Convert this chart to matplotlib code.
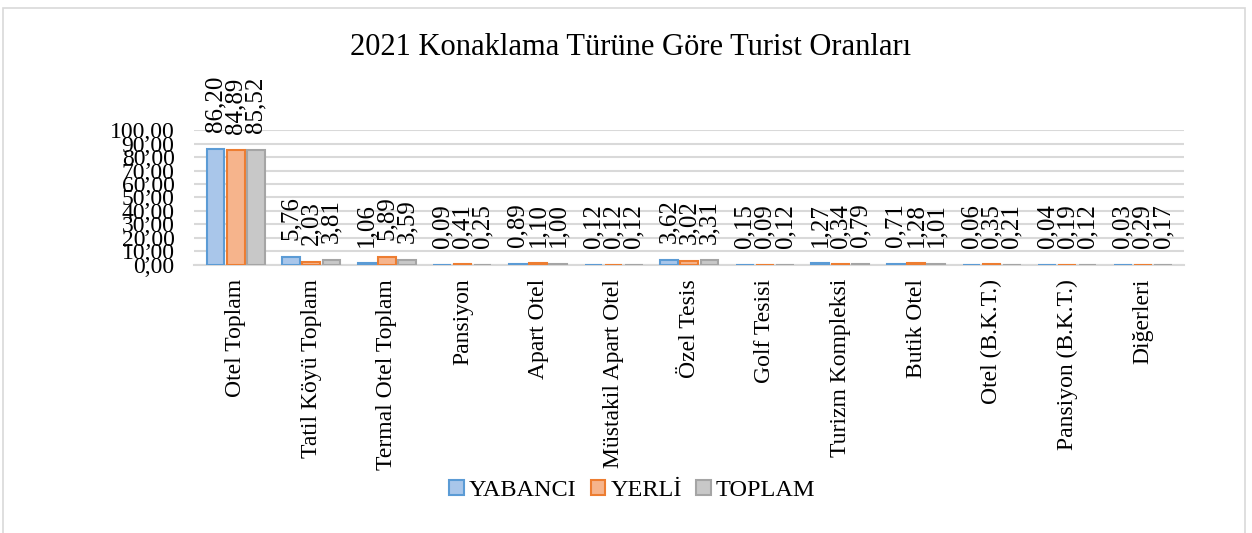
import matplotlib
matplotlib.use('Agg')
import matplotlib.pyplot as plt
import numpy as np
from matplotlib.patches import Rectangle

plt.rcParams['font.family'] = ['Liberation Serif', 'DejaVu Serif']

categories = ['Otel Toplam', 'Tatil Köyü Toplam', 'Termal Otel Toplam', 'Pansiyon',
              'Apart Otel', 'Müstakil Apart Otel', 'Özel Tesis', 'Golf Tesisi',
              'Turizm Kompleksi', 'Butik Otel', 'Otel (B.K.T.)', 'Pansiyon (B.K.T.)',
              'Diğerleri']
yabanci = [86.20, 5.76, 1.06, 0.09, 0.89, 0.12, 3.62, 0.15, 1.27, 0.71, 0.06, 0.04, 0.03]
yerli = [84.89, 2.03, 5.89, 0.41, 1.10, 0.12, 3.02, 0.09, 0.34, 1.28, 0.35, 0.19, 0.29]
toplam = [85.52, 3.81, 3.59, 0.25, 1.00, 0.12, 3.31, 0.12, 0.79, 1.01, 0.21, 0.12, 0.17]
series_names = ['YABANCI', 'YERLİ', 'TOPLAM']
yticks = np.arange(0, 101, 10)

fills = ['#a9c6ea', '#f6b48c', '#c8c8c8']
edges = ['#5b9bd5', '#ed7d31', '#a5a5a5']

fig = plt.figure(figsize=(12.52, 5.33), dpi=100)
ax = fig.add_axes([0.155, 0.503, 0.791, 0.253])

# light frame around the whole chart
fig.patches.append(Rectangle((3/1252, -0.1), 1242/1252, 1.1 - 8/533, transform=fig.transFigure,
                             fill=False, edgecolor='#d9d9d9', linewidth=1.2))

x = np.arange(len(categories))
w = 0.8 / 3
for i, vals in enumerate([yabanci, yerli, toplam]):
    pos = x + (i - 1) * w
    ax.bar(pos, vals, width=w * 0.88, color=fills[i], edgecolor=edges[i],
           linewidth=1.5, label=series_names[i], zorder=3)
    for p, v in zip(pos, vals):
        ax.annotate(f'{v:.2f}'.replace('.', ','), (p, v), xytext=(0, 12),
                    textcoords='offset points', rotation=90, ha='center', va='bottom',
                    fontsize=18, annotation_clip=False)

ax.set_xlim(-0.55, len(categories) - 0.45)
ax.set_ylim(0, 100)
ax.set_yticks(yticks)
ax.set_yticklabels([f'{t:.2f}'.replace('.', ',') for t in yticks], fontsize=17)
ax.set_xticks(x)
ax.set_xticklabels(categories, rotation=90, fontsize=17)
ax.tick_params(axis='x', length=0, pad=10)
ax.tick_params(axis='y', length=0, pad=14)
ax.yaxis.grid(True, color='#d9d9d9', linewidth=1.5, zorder=0)
for s in ['top', 'right', 'left']:
    ax.spines[s].set_visible(False)
ax.spines['bottom'].set_color('#d9d9d9')
ax.spines['bottom'].set_linewidth(1.5)

fig.text(0.504, 0.911, '2021 Konaklama Türüne Göre Turist Oranları', ha='center',
         va='center', fontsize=22)

fig.legend(loc='center', bbox_to_anchor=(0.505, 0.08), ncol=3, frameon=False, fontsize=17.5,
           handlelength=0.6, handleheight=0.6, handletextpad=0.2, columnspacing=0.6)

fig.savefig('out.png', dpi=100)
